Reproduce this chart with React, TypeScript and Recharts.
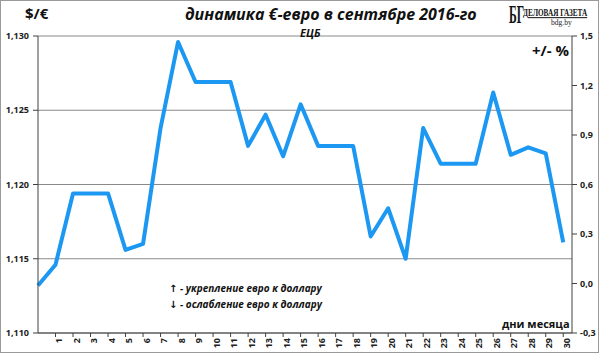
import React from 'react';
import { LineChart, Line, XAxis, YAxis, CartesianGrid } from 'recharts';

// EUR/USD rate set by the ECB, September 2016 (day 0 = start value)
const days = [0, 1, 2, 3, 4, 5, 6, 7, 8, 9, 10, 11, 12, 13, 14, 15, 16, 17, 18, 19, 20, 21, 22, 23, 24, 25, 26, 27, 28, 29, 30];
const rates = [
  1.1132, 1.1146, 1.1194, 1.1194, 1.1194, 1.1156, 1.116, 1.1238, 1.1296, 1.1269, 1.1269,
  1.1269, 1.1226, 1.1247, 1.1219, 1.1254, 1.1226, 1.1226, 1.1226, 1.1165, 1.1184,
  1.115, 1.1238, 1.1214, 1.1214, 1.1214, 1.1262, 1.122, 1.1225, 1.1221, 1.1161,
];
const dayTicks = [1, 2, 3, 4, 5, 6, 7, 8, 9, 10, 11, 12, 13, 14, 15, 16, 17, 18, 19, 20, 21, 22, 23, 24, 25, 26, 27, 28, 29, 30];
const rateTicks = [1.11, 1.115, 1.12, 1.125, 1.13];
const pctTicks = [-0.3, 0, 0.3, 0.6, 0.9, 1.2, 1.5];

const chartData = days.map((day, i) => ({ day, rate: rates[i] }));

const FONT = '"Open Sans", "DejaVu Sans", sans-serif';
const SERIF = '"Liberation Serif", serif';
const AXIS = '#404040';

const DayTick = (props: any) => {
  const { x, y, payload } = props;
  return (
    <text
      x={x}
      y={y}
      dx={-1}
      dy={6.5}
      transform={`rotate(-90, ${x}, ${y})`}
      textAnchor="end"
      fontFamily={FONT}
      fontWeight={700}
      fontSize={9}
      fill="#222"
    >
      {payload.value}
    </text>
  );
};

const comma = (s: string) => s.replace('.', ',');

export default function App() {
  return (
    <div style={{ position: 'absolute', left: 0, top: 0, width: 600, height: 354, background: '#fff' }}>
      <LineChart
        width={600}
        height={354}
        data={chartData}
        margin={{ top: 36, right: 0, bottom: 0, left: 0 }}
      >
        <CartesianGrid yAxisId="left" vertical={false} stroke="#8a8a8a" strokeWidth={1} />
        <XAxis
          dataKey="day"
          type="number"
          domain={[0, 30.5]}
          ticks={dayTicks}
          interval={0}
          height={21}
          tickSize={4}
          tickMargin={0}
          axisLine={{ stroke: AXIS }}
          tickLine={{ stroke: AXIS }}
          tick={<DayTick />}
        />
        <YAxis
          yAxisId="left"
          domain={[1.11, 1.13]}
          ticks={rateTicks}
          width={38}
          tickSize={5}
          tickMargin={4}
          axisLine={{ stroke: AXIS }}
          tickLine={{ stroke: AXIS }}
          tickFormatter={(v: number) => comma(v.toFixed(3))}
          tick={{ fontFamily: FONT, fontWeight: 700, fontSize: 9, fill: '#222' }}
        />
        <YAxis
          yAxisId="right"
          orientation="right"
          domain={[-0.3, 1.5]}
          allowDataOverflow
          ticks={pctTicks}
          width={28}
          tickSize={5}
          tickMargin={3}
          axisLine={{ stroke: AXIS }}
          tickLine={{ stroke: AXIS }}
          tickFormatter={(v: number) => comma(v.toFixed(1))}
          tick={{ fontFamily: FONT, fontWeight: 700, fontSize: 9, fill: '#222', textAnchor: 'start' }}
        />
        {/* invisible series so the % axis gets drawn */}
        <Line
          yAxisId="right"
          type="linear"
          dataKey="rate"
          stroke="none"
          dot={false}
          activeDot={false}
          legendType="none"
          isAnimationActive={false}
        />
        <Line
          yAxisId="left"
          type="linear"
          dataKey="rate"
          stroke="#1C98F2"
          strokeWidth={4}
          strokeLinejoin="round"
          dot={false}
          isAnimationActive={false}
        />
      </LineChart>

      <svg
        width={600}
        height={354}
        style={{ position: 'absolute', left: 0, top: 0, pointerEvents: 'none' }}
      >
        <rect x={0.5} y={0.5} width={598} height={352} fill="none" stroke="#9a9a9a" />
        <text x={25} y={19} fontFamily={FONT} fontWeight={700} fontSize={15} fill="#111">$/€</text>
        <text x={185} y={20} fontFamily={FONT} fontWeight={700} fontStyle="italic" fontSize={16} fill="#111">
          динамика €-евро в сентябре 2016-го
        </text>
        <text x={300} y={37} fontFamily={FONT} fontWeight={700} fontStyle="italic" fontSize={11} fill="#111">ЕЦБ</text>
        <text x={532} y={56} fontFamily={FONT} fontWeight={700} fontSize={15} fill="#111">+/- %</text>
        <text x={169} y={292} fontFamily={FONT} fontWeight={700} fontStyle="italic" fontSize={10} fill="#111">
          ↑ - укрепление евро к доллару
        </text>
        <text x={169} y={308} fontFamily={FONT} fontWeight={700} fontStyle="italic" fontSize={10} fill="#111">
          ↓ - ослабление евро к доллару
        </text>
        <text x={502} y={328} fontFamily={FONT} fontWeight={700} fontSize={11} fill="#111">дни месяца</text>
        <g transform="translate(509,23) scale(0.45,1)">
          <text x={0} y={0} fontFamily={SERIF} fontWeight={700} fontSize={26} fill="#111">БГ</text>
        </g>
        <g transform="translate(523,16) scale(0.72,1)">
          <text x={0} y={0} fontFamily={SERIF} fontWeight={700} fontSize={10} fill="#111" textDecoration="underline">
            ДЕЛОВАЯ ГАЗЕТА
          </text>
        </g>
        <text x={551} y={25} fontFamily={SERIF} fontSize={7.5} fill="#222">bdg.by</text>
      </svg>
    </div>
  );
}
